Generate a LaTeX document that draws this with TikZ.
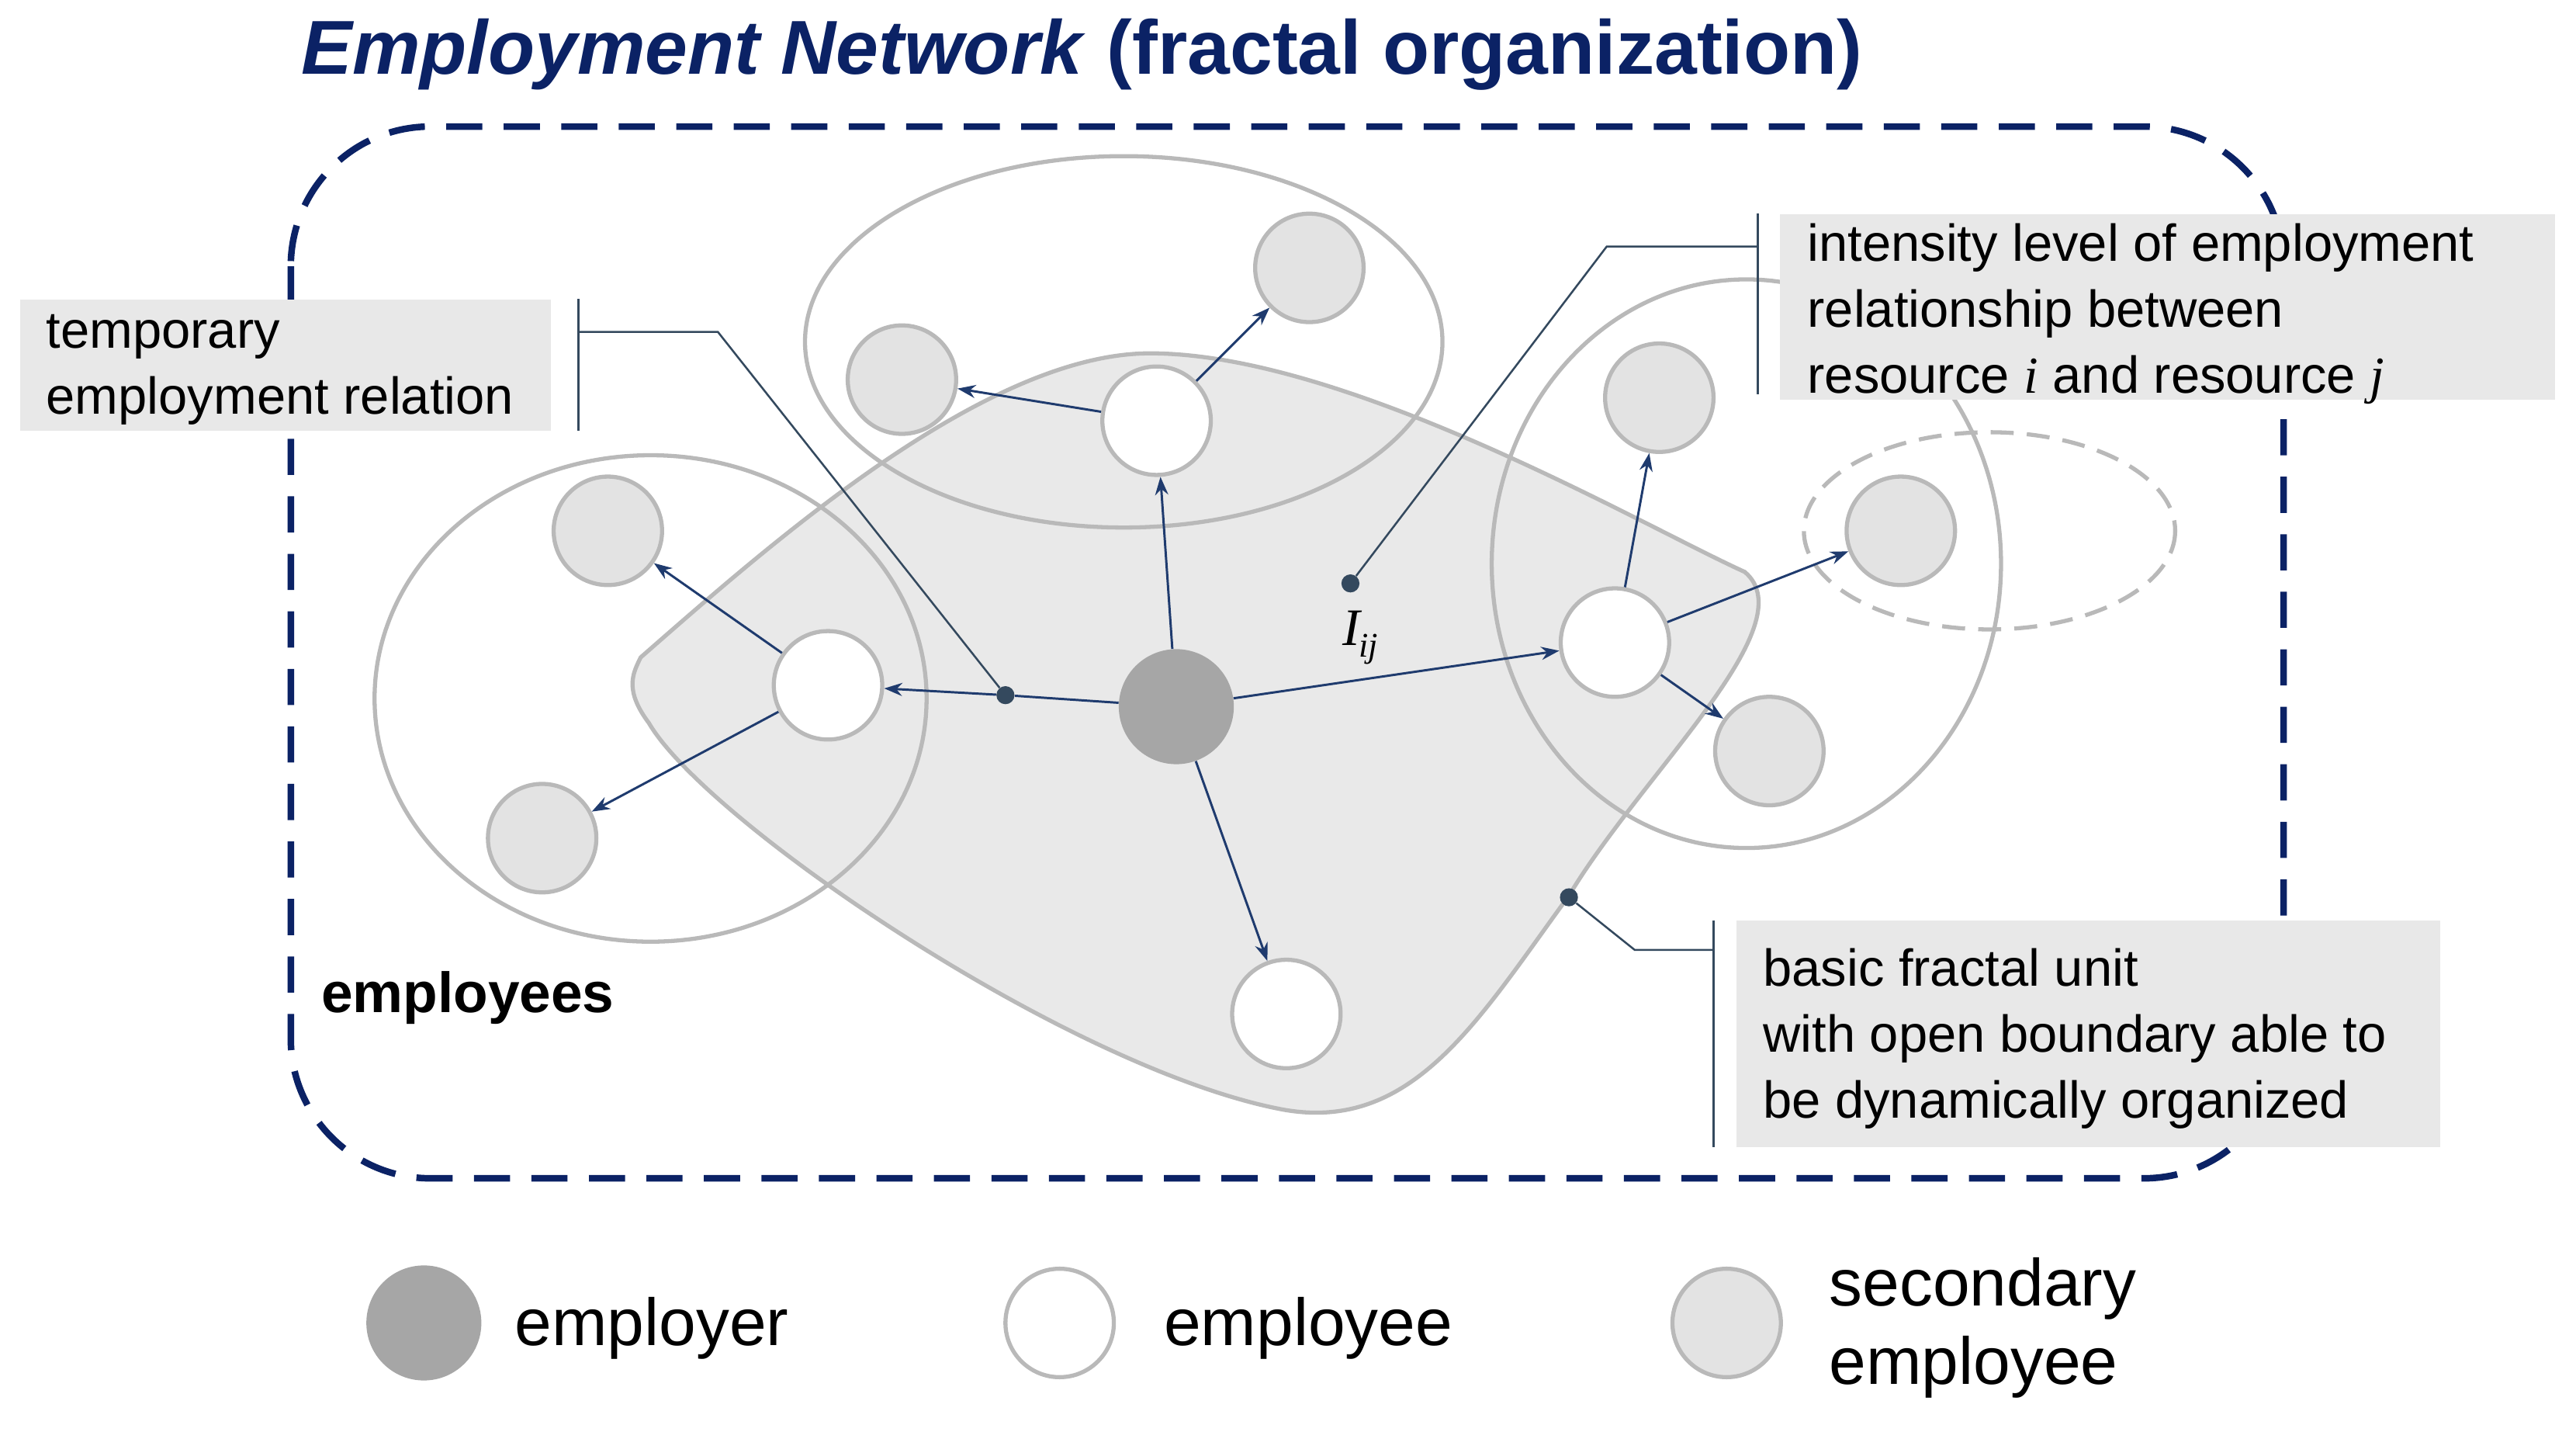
\documentclass[tikz,border=0pt]{standalone}
\usepackage{fontspec}
\setmainfont{Liberation Sans}
\newfontfamily\tms{Liberation Serif}
\usetikzlibrary{arrows.meta}
\definecolor{navy}{HTML}{0B2265}
\definecolor{arr}{HTML}{1F3B6E}
\definecolor{dotc}{HTML}{34495E}
\definecolor{boxg}{HTML}{E8E8E8}
\begin{document}
\begin{tikzpicture}[x=1pt,y=-1pt,
  emp/.style={circle,draw=gray!55,line width=2.5pt,fill=white,minimum size=66pt,inner sep=0pt},
  boss/.style={circle,fill=gray!70,minimum size=70pt,inner sep=0pt},
  sec/.style={circle,draw=gray!55,line width=2.5pt,fill=gray!22,minimum size=66pt,inner sep=0pt},
  ar/.style={arr,line width=1.4pt,-{Stealth[length=11pt,width=8pt]}},
  ln/.style={dotc,line width=1.2pt},
  dot/.style={circle,fill=dotc,minimum size=11pt,inner sep=0pt},
  ell/.style={draw=gray!55,line width=2.5pt},
  box/.style={fill=boxg,inner sep=0pt},
  txt/.style={anchor=west,align=left,font=\fontsize{31.6}{40}\selectfont,inner sep=0pt}]
\useasboundingbox (0,0) rectangle (1568,871);
\node[anchor=west,text=navy,font=\fontsize{46.5}{50}\selectfont\bfseries] (title) at (180,33) {\textit{Employment Network} (fractal organization)};
\draw[navy,line width=4pt,dash pattern=on 22pt off 13pt,rounded corners=85pt] (177,77) rectangle (1390,717);
% blob
\draw[ell,fill=gray!17] (390,400) .. controls (470,330) and (600,215) .. (700,215)
  .. controls (820,215) and (1000,320) .. (1062,348)
  .. controls (1100,380) and (1000,470) .. (955,545)
  .. controls (900,620) and (860,690) .. (780,675)
  .. controls (650,650) and (430,500) .. (395,440)
  .. controls (380,420) and (385,410) .. (390,400) -- cycle;
\draw[ell] (684,208) ellipse [x radius=194,y radius=113];
\draw[ell] (396,425) ellipse [x radius=168,y radius=148];
\draw[ell] (1063,343) ellipse [x radius=155,y radius=173];
\draw[ell,dash pattern=on 14pt off 8pt] (1211,323) ellipse [x radius=113,y radius=60];
\node[boss] (E) at (716,430) {};
\node[emp] (a) at (704,256) {};
\node[emp] (b) at (504,417) {};
\node[emp] (c) at (983,391) {};
\node[emp] (d) at (783,617) {};
\node[sec] (a1) at (797,163) {};
\node[sec] (a2) at (549,231) {};
\node[sec] (b1) at (370,323) {};
\node[sec] (b2) at (330,510) {};
\node[sec] (c1) at (1010,242) {};
\node[sec] (c2) at (1157,323) {};
\node[sec] (c3) at (1077,457) {};
\node[dot] (t) at (612,423) {};
\draw[arr,line width=1.4pt] (E) -- (t);
\draw[ar] (t) -- (b);
\draw[ar] (E) -- (a);
\draw[ar] (E) -- (c);
\draw[ar] (E) -- (d);
\draw[ar] (a) -- (a1); \draw[ar] (a) -- (a2);
\draw[ar] (b) -- (b1); \draw[ar] (b) -- (b2);
\draw[ar] (c) -- (c1); \draw[ar] (c) -- (c2); \draw[ar] (c) -- (c3);
% intensity
\node[dot] (I) at (822,355) {};
\node[font=\fontsize{32}{34}\selectfont\tms\itshape] (Il) at (828,388) {I\kern-1pt\raisebox{-7pt}{\fontsize{21}{22}\selectfont ij}};
\coordinate (i1) at (978,150); \coordinate (i2) at (1070,150);
\draw[ln] (I) -- (i1) -- (i2);
\draw[ln] (1070,130) -- (1070,240);
\node[box,minimum width=472pt,minimum height=113pt,anchor=north west] (ib) at (1083,130) {};
\node[txt] (ibt) at (1100,191) {intensity level of employment\\relationship between\\resource {\tms\itshape i} and resource {\tms\itshape j}};
% temporary
\node[box,minimum width=323pt,minimum height=80pt,anchor=north west] (tb) at (12,182) {};
\node[txt] (tbt) at (28,225) {temporary\\employment relation};
\draw[ln] (352,182) -- (352,262);
\coordinate (t1) at (352,202); \coordinate (t2) at (437,202);
\draw[ln] (t1) -- (t2) -- (t);
% basic fractal unit
\node[dot] (B) at (955,546) {};
\coordinate (b3) at (995,578); \coordinate (b4) at (1043,578);
\draw[ln] (B) -- (b3) -- (b4);
\draw[ln] (1043,560) -- (1043,698);
\node[box,minimum width=428pt,minimum height=138pt,anchor=north west] (bb) at (1057,560) {};
\node[txt] (bbt) at (1073,632) {basic fractal unit\\with open boundary able to\\be dynamically organized};
\node[anchor=west,font=\fontsize{34.5}{36}\selectfont\bfseries] (emps) at (192,607) {employees};
% legend
\node[boss] (l1) at (258,805) {};
\node[anchor=west,font=\fontsize{40.5}{46}\selectfont] (l1t) at (310,808) {employer};
\node[emp] (l2) at (645,805) {};
\node[anchor=west,font=\fontsize{40.5}{46}\selectfont] (l2t) at (705,808) {employee};
\node[sec] (l3) at (1051,805) {};
\node[anchor=west,align=left,font=\fontsize{40.5}{48}\selectfont] (l3t) at (1110,808) {secondary\\employee};
\end{tikzpicture}
\end{document}
